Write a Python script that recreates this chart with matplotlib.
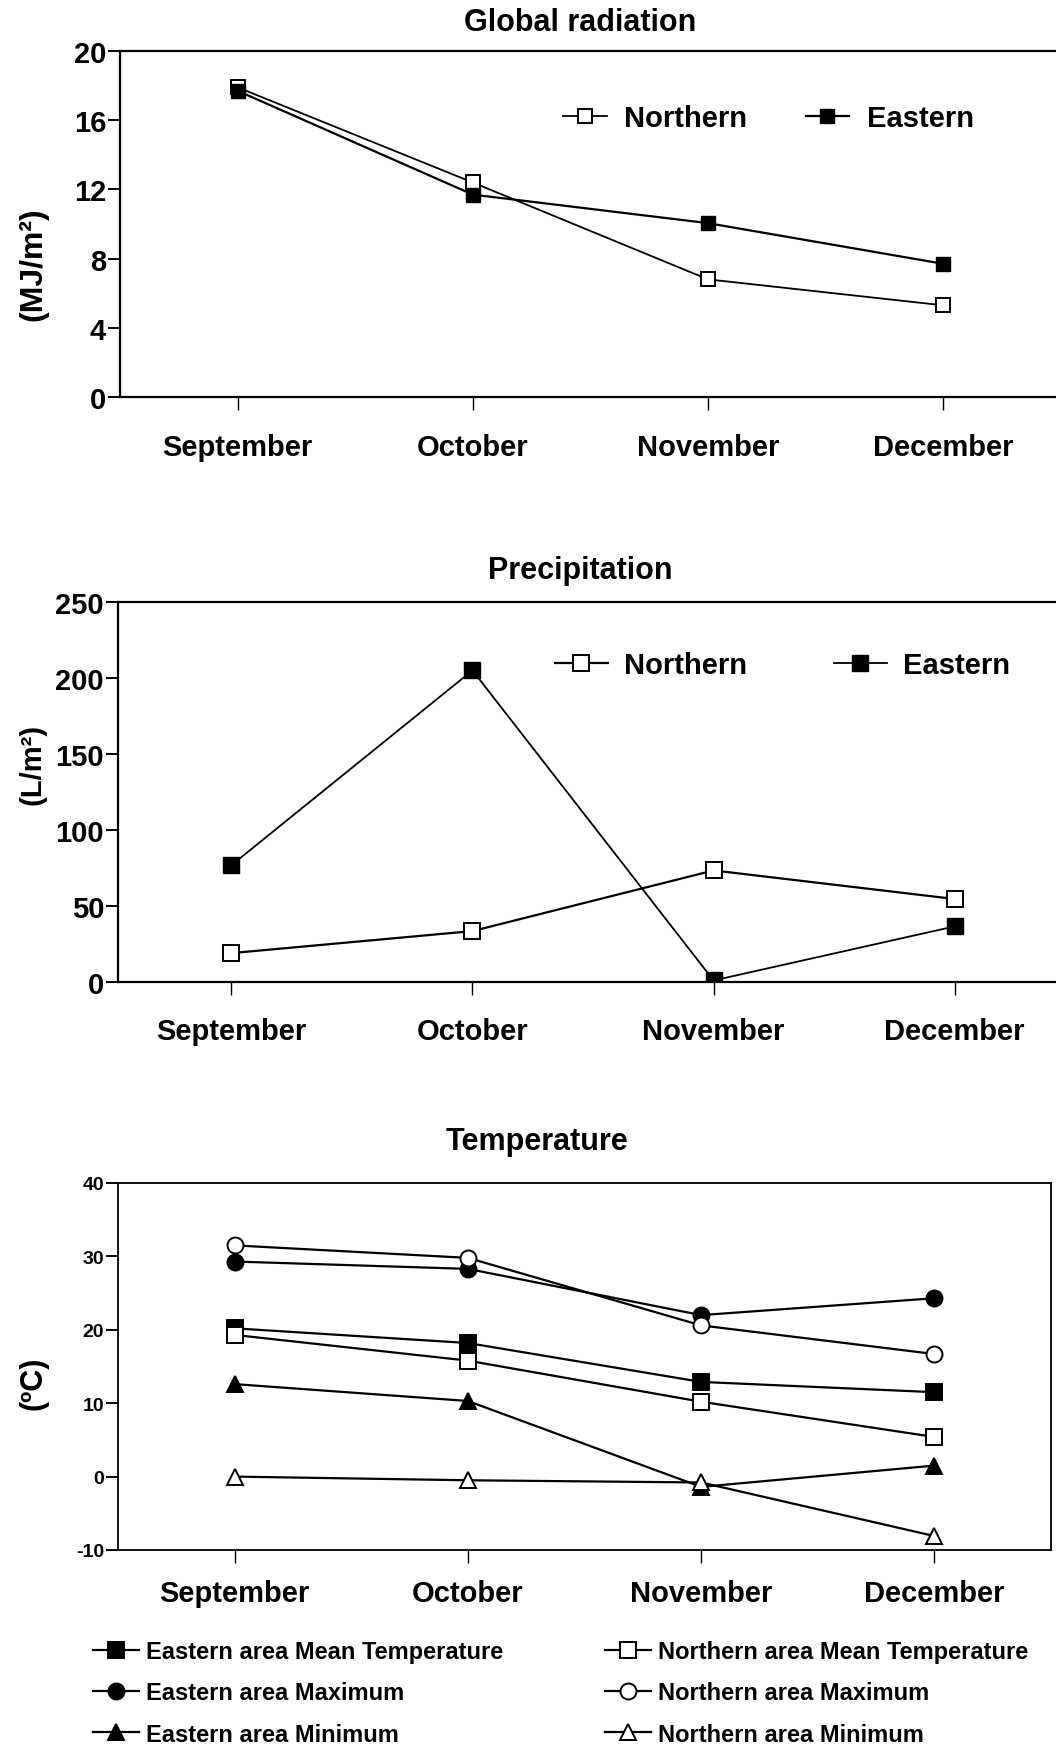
import matplotlib
matplotlib.use('Agg')
import matplotlib.pyplot as plt

plt.rcParams['font.family'] = ['Liberation Sans', 'DejaVu Sans']
plt.rcParams['font.weight'] = 'bold'
plt.rcParams['axes.unicode_minus'] = False

months = ['September', 'October', 'November', 'December']

# Global radiation (MJ/m2)
rad_north = [17.9, 12.4, 6.8, 5.3]
rad_east = [17.7, 11.7, 10.05, 7.7]

# Precipitation (L/m2)
prec_north = [19, 33.5, 73.4, 54.6]
prec_east = [76.8, 205, 1, 36.6]

# Temperature (C)
t_east_mean = [20.2, 18.2, 12.9, 11.5]
t_north_mean = [19.3, 15.8, 10.2, 5.4]
t_east_max = [29.3, 28.3, 22.0, 24.3]
t_north_max = [31.5, 29.8, 20.6, 16.7]
t_east_min = [12.6, 10.3, -1.4, 1.5]
t_north_min = [0.0, -0.5, -0.8, -8.1]

W, H = 1056, 1749
fig = plt.figure(figsize=(W / 100, H / 100), dpi=100)
x = range(len(months))


def fx(px):
    return px / W


def fy(py):
    return 1 - py / H


def style_axes(ax, ylabsize, xpad, show_right=False):
    for s in ['left', 'bottom', 'top', 'right']:
        ax.spines[s].set_linewidth(1.6)
    ax.spines['right'].set_visible(show_right)
    ax.tick_params(axis='x', direction='out', length=9, width=1, pad=xpad,
                   labelsize=21)
    ax.tick_params(axis='y', direction='out', length=9, width=1.4, pad=1,
                   labelsize=ylabsize)
    ax.set_xticks(list(x))
    ax.set_xticklabels(months, fontweight='bold')
    for lab in ax.get_yticklabels():
        lab.set_fontweight('bold')


# ---- Global radiation ----
ax1 = fig.add_axes([fx(120), fy(398), fx(1056 - 120), (398 - 52) / H])
l1, = ax1.plot(x, rad_north, '-s', color='black', lw=1.3, ms=10.5,
               mfc='white', mec='black', mew=1.4, label='Northern')
l2, = ax1.plot(x, rad_east, '-s', color='black', lw=1.6, ms=10.5,
               mfc='black', mec='black', label='Eastern')
ax1.set_xlim(-0.5, 3.48)
ax1.set_ylim(0, 20)
ax1.set_yticks([0, 4, 8, 12, 16, 20])
style_axes(ax1, 21, 17)
fig.text(fx(580), fy(23), 'Global radiation', ha='center', va='center',
         fontsize=22, fontweight='bold')
fig.text(fx(33), fy(264), '(MJ/m²)', ha='center', va='center', rotation=90,
         fontsize=23, fontweight='bold')
fig.legend(handles=[l1, l2], loc='center left', bbox_to_anchor=(fx(563), fy(119)),
           ncol=2, frameon=False, borderpad=0, borderaxespad=0,
           handlelength=1.5, handletextpad=0.6, columnspacing=2.0,
           prop={'size': 21, 'weight': 'bold'})

# ---- Precipitation ----
ax2 = fig.add_axes([fx(118), fy(983), fx(1056 - 118), (983 - 603) / H])
p1, = ax2.plot(x, prec_north, '-s', color='black', lw=1.6, ms=12,
               mfc='white', mec='black', mew=1.4, label='Northern')
p2, = ax2.plot(x, prec_east, '-s', color='black', lw=1.3, ms=12,
               mfc='black', mec='black', label='Eastern')
ax2.set_xlim(-0.47, 3.42)
ax2.set_ylim(0, 250)
ax2.set_yticks([0, 50, 100, 150, 200, 250])
style_axes(ax2, 21, 16)
fig.text(fx(580), fy(571), 'Precipitation', ha='center', va='center',
         fontsize=22, fontweight='bold')
fig.text(fx(33), fy(764), '(L/m²)', ha='center', va='center', rotation=90,
         fontsize=21, fontweight='bold')
fig.legend(handles=[p1, p2], loc='center left', bbox_to_anchor=(fx(555), fy(666)),
           ncol=2, frameon=False, borderpad=0, borderaxespad=0,
           handlelength=1.8, handletextpad=0.55, columnspacing=3.0,
           prop={'size': 21, 'weight': 'bold'})

# ---- Temperature ----
ax3 = fig.add_axes([fx(118), fy(1551), fx(1051 - 118), (1551 - 1184) / H])
kw = dict(color='black', lw=1.6, ms=11.5, mec='black', mew=1.4)
a, = ax3.plot(x, t_east_mean, '-s', mfc='black', label='Eastern area Mean Temperature', **kw)
b, = ax3.plot(x, t_north_mean, '-s', mfc='white', label='Northern area Mean Temperature', **kw)
c, = ax3.plot(x, t_east_max, '-o', mfc='black', label='Eastern area Maximum', **kw)
d, = ax3.plot(x, t_north_max, '-o', mfc='white', label='Northern area Maximum', **kw)
e, = ax3.plot(x, t_east_min, '-^', mfc='black', label='Eastern area Minimum', **kw)
f, = ax3.plot(x, t_north_min, '-^', mfc='white', label='Northern area Minimum', **kw)
ax3.set_xlim(-0.5, 3.5)
ax3.set_ylim(-10, 40)
ax3.set_yticks([-10, 0, 10, 20, 30, 40])
style_axes(ax3, 14, 12, show_right=True)
for s in ax3.spines.values():
    s.set_linewidth(1.3)
fig.text(fx(537), fy(1142), 'Temperature', ha='center', va='center',
         fontsize=22, fontweight='bold')
fig.text(fx(33), fy(1383), '(ºC)', ha='center', va='center', rotation=90,
         fontsize=22, fontweight='bold')

leg_kw = dict(loc='center left', frameon=False, borderpad=0, borderaxespad=0,
              handlelength=1.95, handletextpad=0.3, labelspacing=0.77,
              prop={'size': 17, 'weight': 'bold'})
fig.legend(handles=[a, c, e], bbox_to_anchor=(fx(93), fy(1694)), **leg_kw)
fig.legend(handles=[b, d, f], bbox_to_anchor=(fx(605), fy(1694)), **leg_kw)

fig.savefig('out.png', dpi=100)
